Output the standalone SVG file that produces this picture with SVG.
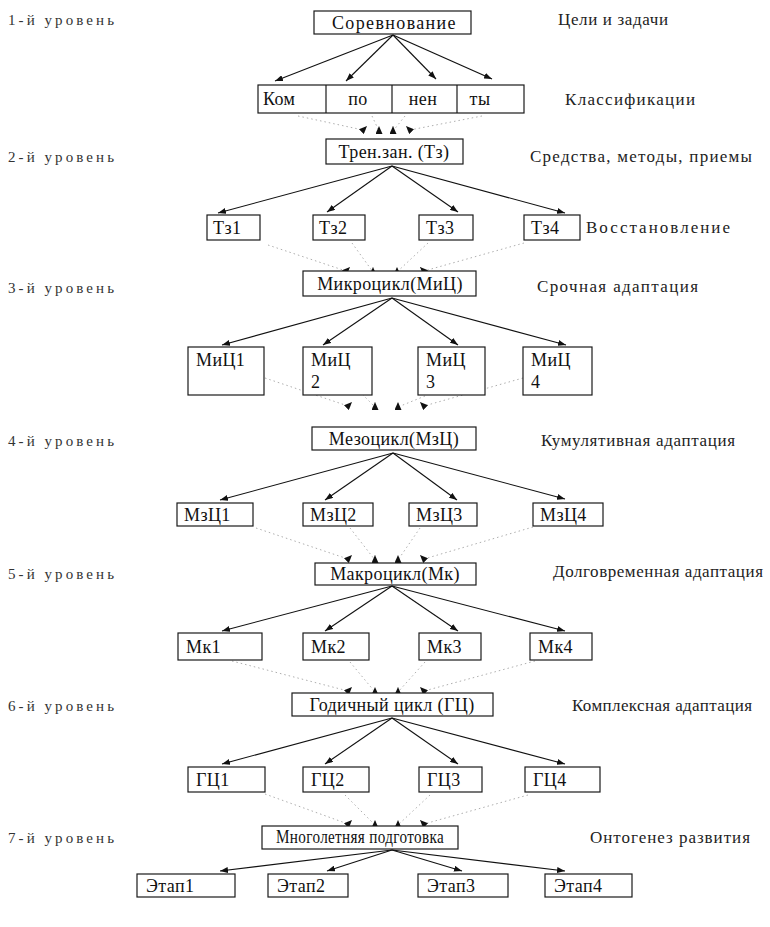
<svg xmlns="http://www.w3.org/2000/svg" width="770" height="927" viewBox="0 0 770 927">
<defs>
<marker id="ah" viewBox="0 0 8 6" refX="8" refY="3" markerWidth="8" markerHeight="6" markerUnits="userSpaceOnUse" orient="auto"><path d="M0,0 L8,3 L0,6 z" fill="#111"/></marker>
<marker id="ahd" viewBox="0 0 8 7" refX="8" refY="3.5" markerWidth="8" markerHeight="7" markerUnits="userSpaceOnUse" orient="auto"><path d="M0,0 L8,3.5 L0,7 z" fill="#111"/></marker>
</defs>
<style>
text{font-family:"Liberation Serif","Times New Roman","Noto Serif","DejaVu Serif",serif}
.box{fill:#fff;stroke:#1a1a1a;stroke-width:1.2}
.t{font-size:18px;fill:#111;letter-spacing:0.4px}
.lbl{font-size:17px;fill:#222}
.lv{font-size:15px;fill:#333}
.arr{stroke:#111;stroke-width:1.1;fill:none;marker-end:url(#ah)}
.dot{stroke:#999;stroke-width:0.8;stroke-dasharray:1.5 3;fill:none;marker-end:url(#ahd)}
</style>
<rect width="770" height="927" fill="#fff"/>

<g id="levels">
<text class="lv" x="8" y="25" textLength="106" lengthAdjust="spacing">1-й уровень</text>
<text class="lv" x="8" y="162" textLength="106" lengthAdjust="spacing">2-й уровень</text>
<text class="lv" x="8" y="293" textLength="106" lengthAdjust="spacing">3-й уровень</text>
<text class="lv" x="8" y="446" textLength="106" lengthAdjust="spacing">4-й уровень</text>
<text class="lv" x="8" y="579" textLength="106" lengthAdjust="spacing">5-й уровень</text>
<text class="lv" x="8" y="711" textLength="106" lengthAdjust="spacing">6-й уровень</text>
<text class="lv" x="8" y="843" textLength="106" lengthAdjust="spacing">7-й уровень</text>
</g>
<g id="notes">
<text class="lbl" x="558" y="25" textLength="110" lengthAdjust="spacing">Цели и задачи</text>
<text class="lbl" x="565" y="105" textLength="130" lengthAdjust="spacing">Классификации</text>
<text class="lbl" x="530" y="162" textLength="222" lengthAdjust="spacing">Средства, методы, приемы</text>
<text class="lbl" x="586" y="233" textLength="144" lengthAdjust="spacing">Восстановление</text>
<text class="lbl" x="537" y="292" textLength="161" lengthAdjust="spacing">Срочная адаптация</text>
<text class="lbl" x="541" y="446" textLength="194" lengthAdjust="spacing">Кумулятивная адаптация</text>
<text class="lbl" x="553" y="577" textLength="210" lengthAdjust="spacing">Долговременная адаптация</text>
<text class="lbl" x="572" y="711" textLength="180" lengthAdjust="spacing">Комплексная адаптация</text>
<text class="lbl" x="590" y="843" textLength="160" lengthAdjust="spacing">Онтогенез развития</text>
</g>

<g id="connectors">
<path class="arr" d="M393,35 L275,81"/>
<path class="arr" d="M393,35 L346,81"/>
<path class="arr" d="M393,35 L436,79"/>
<path class="arr" d="M393,35 L492,79"/>
<path class="dot" d="M298,116 L363,130 L367,126"/>
<path class="dot" d="M372,116 L379,131 L379,126"/>
<path class="dot" d="M405,116 L393,131 L393,126"/>
<path class="dot" d="M482,116 L410,130 L406,126"/>

<path class="arr" d="M392,166 L218,213"/>
<path class="arr" d="M392,166 L327,212"/>
<path class="arr" d="M392,166 L458,212"/>
<path class="arr" d="M392,166 L565,213"/>
<path class="dot" d="M268,245 L346,271 L350,267"/>
<path class="dot" d="M352,243 L373,272 L373,267"/>
<path class="dot" d="M428,243 L397,272 L397,267"/>
<path class="dot" d="M524,243 L424,271 L420,267"/>

<path class="arr" d="M392,298 L222,345"/>
<path class="arr" d="M392,298 L323,345"/>
<path class="arr" d="M392,298 L458,345"/>
<path class="arr" d="M392,298 L566,345"/>
<path class="dot" d="M265,378 L348,406 L352,402"/>
<path class="dot" d="M340,372 L375,407 L375,402"/>
<path class="dot" d="M425,396 L398,407 L398,402"/>
<path class="dot" d="M523,378 L424,406 L420,402"/>

<path class="arr" d="M393,453 L220,500"/>
<path class="arr" d="M393,453 L325,500"/>
<path class="arr" d="M393,453 L457,500"/>
<path class="arr" d="M393,453 L565,499"/>
<path class="dot" d="M256,528 L348,559 L352,555"/>
<path class="dot" d="M350,528 L375,560 L375,555"/>
<path class="dot" d="M420,528 L398,560 L398,555"/>
<path class="dot" d="M533,527 L424,559 L420,555"/>

<path class="arr" d="M392,586 L222,631"/>
<path class="arr" d="M392,586 L325,631"/>
<path class="arr" d="M392,586 L458,631"/>
<path class="arr" d="M392,586 L565,631"/>
<path class="dot" d="M232,661 L348,691 L352,687"/>
<path class="dot" d="M350,662 L375,692 L375,687"/>
<path class="dot" d="M425,662 L398,692 L398,687"/>
<path class="dot" d="M535,661 L424,691 L420,687"/>

<path class="arr" d="M392,718 L222,764"/>
<path class="arr" d="M392,718 L325,764"/>
<path class="arr" d="M392,718 L458,764"/>
<path class="arr" d="M392,718 L565,764"/>
<path class="dot" d="M265,794 L348,824 L352,820"/>
<path class="dot" d="M345,795 L375,825 L375,820"/>
<path class="dot" d="M430,795 L398,825 L398,820"/>
<path class="dot" d="M528,795 L424,824 L420,820"/>

<path class="arr" d="M392,850 L220,871"/>
<path class="arr" d="M392,850 L327,871"/>
<path class="arr" d="M392,850 L462,871"/>
<path class="arr" d="M392,850 L565,871"/>
</g>

<g id="n-sorevnovanie"><rect class="box" x="314" y="11" width="157" height="23"/><text class="t" x="332" y="29" textLength="124" lengthAdjust="spacing">Соревнование</text></g>
<g id="n-klass">
<rect class="box" x="258" y="85" width="266" height="28"/>
<line x1="326" y1="85" x2="326" y2="113" stroke="#1a1a1a" stroke-width="1.2"/>
<line x1="392" y1="85" x2="392" y2="113" stroke="#1a1a1a" stroke-width="1.2"/>
<line x1="457" y1="85" x2="457" y2="113" stroke="#1a1a1a" stroke-width="1.2"/>
<text class="t" x="263" y="105">Ком</text>
<text class="t" x="358" y="105" text-anchor="middle">по</text>
<text class="t" x="423" y="105" text-anchor="middle">нен</text>
<text class="t" x="480" y="105" text-anchor="middle">ты</text>
</g>

<g id="n-tz"><rect class="box" x="326" y="139" width="137" height="25"/><text class="t" x="394" y="158" text-anchor="middle">Трен.зан. (Тз)</text></g>
<g id="n-tz1"><rect class="box" x="207" y="215" width="53" height="25"/><text class="t" x="213" y="234">Тз1</text></g>
<g id="n-tz2"><rect class="box" x="313" y="215" width="52" height="25"/><text class="t" x="319" y="234">Тз2</text></g>
<g id="n-tz3"><rect class="box" x="419" y="215" width="54" height="25"/><text class="t" x="426" y="234">Тз3</text></g>
<g id="n-tz4"><rect class="box" x="524" y="215" width="56" height="25"/><text class="t" x="531" y="234">Тз4</text></g>

<g id="n-mic"><rect class="box" x="303" y="271" width="173" height="25"/><text class="t" x="390" y="290" text-anchor="middle">Микроцикл(МиЦ)</text></g>
<g id="n-mic1"><rect class="box" x="188" y="347" width="76" height="48"/><text class="t" x="196" y="366">МиЦ1</text></g>
<g id="n-mic2"><rect class="box" x="303" y="347" width="69" height="48"/><text class="t" x="311" y="366">МиЦ</text><text class="t" x="311" y="388">2</text></g>
<g id="n-mic3"><rect class="box" x="418" y="347" width="67" height="48"/><text class="t" x="426" y="366">МиЦ</text><text class="t" x="426" y="388">3</text></g>
<g id="n-mic4"><rect class="box" x="523" y="347" width="69" height="48"/><text class="t" x="531" y="366">МиЦ</text><text class="t" x="531" y="388">4</text></g>

<g id="n-mzc"><rect class="box" x="312" y="427" width="164" height="23"/><text class="t" x="394" y="445" text-anchor="middle">Мезоцикл(МзЦ)</text></g>
<g id="n-mzc1"><rect class="box" x="177" y="503" width="76" height="23"/><text class="t" x="184" y="521">МзЦ1</text></g>
<g id="n-mzc2"><rect class="box" x="303" y="503" width="70" height="23"/><text class="t" x="310" y="521">МзЦ2</text></g>
<g id="n-mzc3"><rect class="box" x="409" y="503" width="68" height="23"/><text class="t" x="416" y="521">МзЦ3</text></g>
<g id="n-mzc4"><rect class="box" x="533" y="503" width="70" height="23"/><text class="t" x="540" y="521">МзЦ4</text></g>

<g id="n-mk"><rect class="box" x="315" y="563" width="161" height="22"/><text class="t" x="395" y="580" text-anchor="middle">Макроцикл(Мк)</text></g>
<g id="n-mk1"><rect class="box" x="178" y="633" width="84" height="27"/><text class="t" x="186" y="653">Мк1</text></g>
<g id="n-mk2"><rect class="box" x="303" y="633" width="66" height="27"/><text class="t" x="311" y="653">Мк2</text></g>
<g id="n-mk3"><rect class="box" x="419" y="633" width="62" height="27"/><text class="t" x="427" y="653">Мк3</text></g>
<g id="n-mk4"><rect class="box" x="530" y="633" width="62" height="27"/><text class="t" x="538" y="653">Мк4</text></g>

<g id="n-gc"><rect class="box" x="292" y="693" width="201" height="23"/><text class="t" x="392" y="711" text-anchor="middle">Годичный цикл (ГЦ)</text></g>
<g id="n-gc1"><rect class="box" x="188" y="767" width="77" height="25"/><text class="t" x="196" y="786">ГЦ1</text></g>
<g id="n-gc2"><rect class="box" x="303" y="767" width="66" height="25"/><text class="t" x="311" y="786">ГЦ2</text></g>
<g id="n-gc3"><rect class="box" x="419" y="767" width="63" height="25"/><text class="t" x="427" y="786">ГЦ3</text></g>
<g id="n-gc4"><rect class="box" x="525" y="767" width="75" height="25"/><text class="t" x="533" y="786">ГЦ4</text></g>

<g id="n-mnog"><rect class="box" x="262" y="826" width="196" height="23"/><text class="t" x="276" y="843" font-size="17" textLength="168" lengthAdjust="spacingAndGlyphs">Многолетняя подготовка</text></g>
<g id="n-etap1"><rect class="box" x="137" y="874" width="98" height="23"/><text class="t" x="146" y="892">Этап1</text></g>
<g id="n-etap2"><rect class="box" x="268" y="874" width="80" height="23"/><text class="t" x="277" y="892">Этап2</text></g>
<g id="n-etap3"><rect class="box" x="418" y="874" width="90" height="23"/><text class="t" x="427" y="892">Этап3</text></g>
<g id="n-etap4"><rect class="box" x="545" y="874" width="87" height="23"/><text class="t" x="554" y="892">Этап4</text></g>
</svg>
